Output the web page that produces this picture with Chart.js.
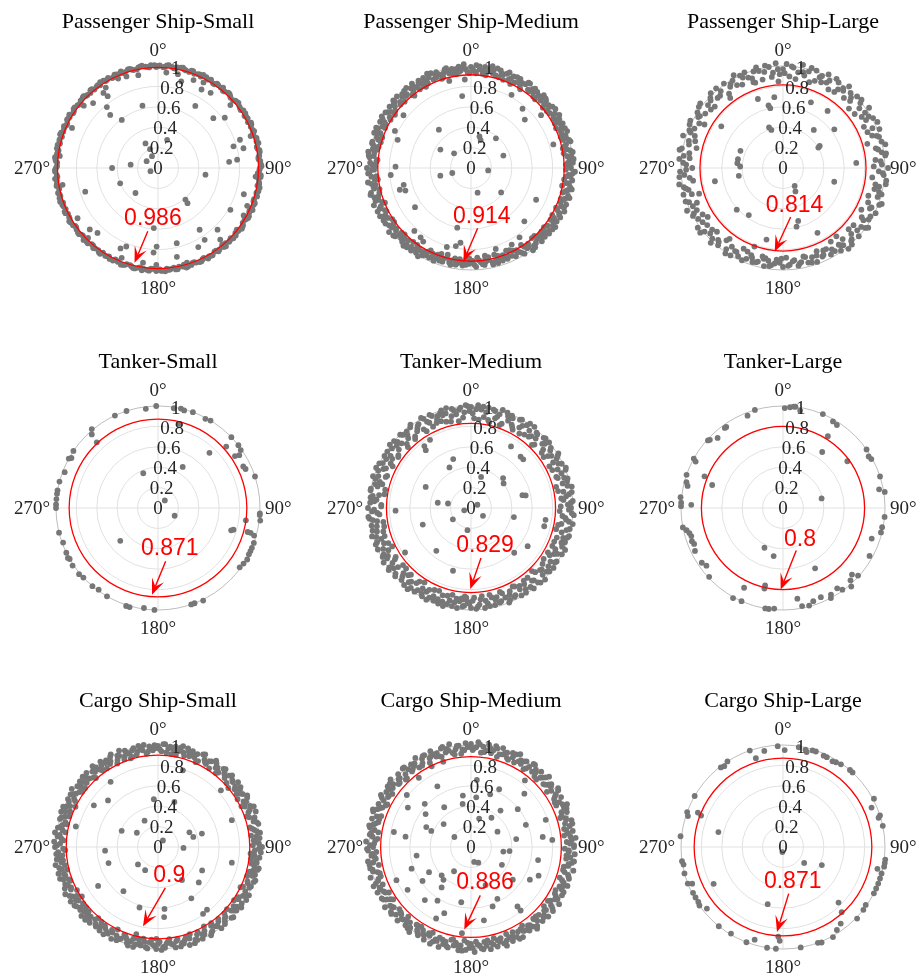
<!DOCTYPE html>
<html>
<head>
<meta charset="utf-8">
<script src="https://cdn.jsdelivr.net/npm/chart.js@4.4.1/dist/chart.umd.min.js"></script>
<style>
  html, body { margin: 0; padding: 0; background: #fff; }
  body { position: relative; width: 921px; height: 979px; overflow: hidden; }
  canvas { position: absolute; }
</style>
</head>
<body>
<script>
// each series is a flat list of [direction in degrees, ratio] pairs
var psSmallPts = [336,.96, 341,.95, 348,.93, 5,.94, 12,.94, 15,.88, 22,.93, 28,.95, 29,.88, 35,.9, 327,.94, 324,.91, 325,.86, 310,.95, 315,.9, 320,.78, 346,.63, 31,.71, 49,.94, 53,.82, 318,.7, 323,.59, 48,.73, 295,.93, 71,.85, 71,.96, 77,.86, 74,.77, 333,.27, 18,.29, 337,.2, 333,.13, 301,.13, 85,.7, 84,.78, 277,.27, 270,.45, 247,.08, 98,.47, 248,.4, 260,.95, 277,.97, 222,.33, 252,.75, 139,.41, 140,.45, 107,.88, 113,.95, 120,.82, 119,.96, 93,.98, 95,.96, 238,.93, 146,.73, 228,.9, 223,.87, 225,.97, 136,.84, 147,.84, 139,.93, 140,.98, 128,.98, 184,.59, 202,.83, 205,.87, 181,.77, 183,.83, 166,.76, 153,.87, 168,.89, 202,.95, 189,.94, 181,.95, 165,.98, 163,.97]
var psSmallRim = [0,1, 3,.99, 5,1.01, 8,1, 10,.99, 13,1.01, 15,1, 18,.99, 20,1.01, 23,1, 25,.99, 28,1.01, 30,1, 33,.99, 35,1.01, 38,1, 40,.99, 43,1.01, 45,1, 48,.99, 50,1.01, 53,1, 55,.99, 58,1.01, 60,1, 63,.99, 65,1.01, 68,1, 70,.99, 73,1.01, 75,1, 78,.99, 80,1.01, 83,1, 85,.99, 88,1.01, 90,1, 93,.99, 95,1.01, 98,1, 100,.99, 103,1.01, 105,1, 108,.99, 110,1.01, 113,1, 115,.99, 118,1.01, 120,1, 123,.99, 125,1.01, 128,1, 130,.99, 133,1.01, 135,1, 138,.99, 140,1.01, 143,1, 145,.99, 148,1.01, 150,1, 153,.99, 155,1.01, 158,1, 160,.99, 163,1.01, 165,1, 168,.99, 170,1.01, 173,1, 175,.99, 178,1.01, 180,1, 183,.99, 185,1.01, 188,1, 190,.99, 193,1.01, 195,1, 198,.99, 200,1.01, 203,1, 205,.99, 208,1.01, 210,1, 213,.99, 215,1.01, 218,1, 220,.99, 223,1.01, 225,1, 228,.99, 230,1.01, 233,1, 235,.99, 238,1.01, 240,1, 243,.99, 245,1.01, 248,1, 250,.99, 253,1.01, 255,1, 258,.99, 260,1.01, 263,1, 265,.99, 268,1.01, 270,1, 273,.99, 275,1.01, 278,1, 280,.99, 283,1.01, 285,1, 288,.99, 290,1.01, 293,1, 295,.99, 298,1.01, 300,1, 303,.99, 305,1.01, 308,1, 310,.99, 313,1.01, 315,1, 318,.99, 320,1.01, 323,1, 325,.99, 328,1.01, 330,1, 333,.99, 335,1.01, 338,1, 340,.99, 343,1.01, 345,1, 348,.99, 350,1.01, 353,1, 355,.99, 358,1.01]
var psSmallRim2 = [1,1.005, 4,.995, 6,1.015, 9,.99, 11,1.005, 14,1.015, 16,.995, 19,1.01, 21,.99, 24,1.005, 26,1.015, 29,.995, 31,1.01, 34,.99, 36,1.005, 39,1.015, 41,.995, 44,1.01, 46,.99, 49,1.005, 51,1.015, 54,.995, 56,1.01, 59,.99, 61,1.005, 64,1.015, 66,.995, 69,1.01, 71,.99, 74,1.005, 76,1.015, 79,.995, 81,1.01, 84,.99, 86,1.005, 89,1.015, 91,.995, 94,1.01, 96,.99, 99,1.005, 101,1.015, 104,.995, 106,1.01, 109,.99, 111,1.005, 114,1.015, 116,.995, 119,1.01, 121,.99, 124,1.005, 126,1.015, 129,.995, 131,1.01, 134,.99, 136,1.005, 139,1.015, 141,.995, 144,1.01, 146,.99, 149,1.005, 151,1.015, 154,.995, 156,1.01, 159,.99, 161,1.005, 164,1.015, 166,.995, 169,1.01, 171,.99, 174,1.005, 176,1.015, 179,.995, 181,1.01, 184,.99, 186,1.005, 189,1.015, 191,.995, 194,1.01, 196,.99, 199,1.005, 201,1.015, 204,.995, 206,1.01, 209,.99, 211,1.005, 214,1.015, 216,.995, 219,1.01, 221,.99, 224,1.005, 226,1.015, 229,.995, 231,1.01, 234,.99, 236,1.005, 239,1.015, 241,.995, 244,1.01, 246,.99, 249,1.005, 251,1.015, 254,.995, 256,1.01, 259,.99, 261,1.005, 264,1.015, 266,.995, 269,1.01, 271,.99, 274,1.005, 276,1.015, 279,.995, 281,1.01, 284,.99, 286,1.005, 289,1.015, 291,.995, 294,1.01, 296,.99, 299,1.005, 301,1.015, 304,.995, 306,1.01, 309,.99, 311,1.005, 314,1.015, 316,.995, 319,1.01, 321,.99, 324,1.005, 326,1.015, 329,.995, 331,1.01, 334,.99, 336,1.005, 339,1.015, 341,.995, 344,1.01, 346,.99, 349,1.005, 351,1.015, 354,.995, 356,1.01, 359,.99]

var psMediumPts = [353,.71, 322,.9, 346,.88, 29,.82, 41,.77, 48,.71, 53,.86, 308,.84, 320,.49, 296,.83, 15,.32, 19,.29, 40,.38, 74,.84, 301,.35, 311,.22, 69,.34, 271,.74, 265,.79, 256,.31, 255,.19, 98,.17, 256,.68, 253,.73, 251,.68, 165,.25, 129,.38, 116,.71, 235,.67, 135,.74, 193,.6, 222,.83, 216,.84, 213,.86, 197,.81, 191,.78, 188,.74, 163,.83, 171,.87, 152,.85, 145,.83, 133,.94, 291,.77, 331,.91, 356,.87]
var psMediumRim = [0,.99, 2,.95, 3,1.01, 5,.97, 7,.93, 8,1, 10,.96, 12,1.02, 13,.98, 15,.94, 17,1, 18,.97, 20,.92, 22,1.01, 24,.96, 25,.99, 27,.94, 29,1, 31,.97, 32,.91, 34,1.01, 36,.95, 38,.98, 39,1, 41,.93, 43,.97, 45,1.01, 46,.95, 48,.99, 50,.92, 52,.97, 53,1, 55,.94, 57,.98, 59,1.01, 60,.96, 62,.93, 64,1, 66,.97, 67,.95, 69,1.01, 71,.98, 73,.94, 74,1, 76,.96, 78,.92, 80,.99, 81,1.01, 83,.95, 85,.97, 87,1, 88,.93, 90,.98, 92,1.02, 94,.96, 95,.94, 97,1, 99,.97, 101,.91, 102,1.01, 104,.95, 106,.99, 108,.97, 109,.93, 111,1, 113,.96, 115,1.01, 116,.94, 118,.98, 120,.92, 122,.99, 123,.96, 125,1.01, 127,.94, 129,.98, 130,1, 132,.93, 134,.97, 136,1, 137,.95, 139,.91, 141,.98, 143,1.01, 144,.96, 146,.93, 148,.99, 150,.95, 151,.92, 153,.97, 155,.89, 157,.94, 158,.96, 160,.91, 162,.93, 164,.97, 165,.88, 167,.95, 169,.92, 171,.9, 172,.96, 174,.93, 176,.88, 178,.95, 179,.91, 181,.94, 183,.89, 185,.96, 186,.92, 188,.94, 190,.9, 192,.97, 193,.93, 195,.91, 197,.96, 199,.89, 200,.94, 202,.98, 204,.92, 206,.9, 207,.96, 209,.94, 211,1.01, 213,.94, 214,.96, 216,1, 218,.92, 220,.98, 221,1.01, 223,.95, 225,.97, 227,.93, 228,1, 230,.96, 232,1.02, 234,.94, 235,.98, 237,.92, 239,1, 241,.96, 242,1.01, 244,.94, 246,.98, 248,.91, 249,1.02, 251,.96, 253,.99, 255,.93, 256,1.01, 258,.97, 260,.95, 262,1.02, 263,.92, 265,.98, 267,1, 269,.95, 270,1.02, 272,.97, 274,.93, 276,1, 277,.96, 279,1.02, 281,.94, 283,.98, 284,1, 286,.92, 288,.97, 290,1.01, 291,.95, 293,.99, 295,.93, 297,1, 298,.96, 300,1.01, 302,.94, 304,.98, 305,.91, 307,1, 309,.96, 311,.99, 312,.93, 314,1.01, 316,.97, 318,.95, 319,1, 321,.92, 323,.98, 325,1.01, 326,.95, 328,.97, 330,.93, 332,1, 333,.96, 335,1.02, 337,.94, 339,.98, 340,1, 342,.92, 344,.97, 346,1.01, 347,.95, 349,.99, 351,.93, 353,1, 354,.96, 356,1.02, 358,.94]
var psMediumRim2 = [1,.97, 3,.93, 5,1, 7,.96, 9,.92, 11,.99, 13,.95, 15,1.01, 17,.93, 19,.97, 21,.99, 23,.94, 25,.91, 27,1, 29,.96, 31,.93, 33,.98, 35,1.01, 37,.94, 39,.96, 41,.99, 43,.92, 45,.97, 47,1, 49,.95, 51,.98, 53,.93, 55,1.01, 57,.96, 59,.94, 61,.99, 63,.97, 65,.92, 67,1, 69,.95, 71,.93, 73,.98, 75,1.01, 77,.94, 79,.96, 81,.92, 83,.99, 85,1.01, 87,.95, 89,.97, 91,.93, 93,1, 95,.98, 97,.92, 99,.95, 101,.99, 103,.97, 105,.93, 107,1.01, 109,.96, 111,.94, 113,.99, 115,.92, 117,.97, 119,1, 121,.95, 123,.93, 125,.98, 127,1, 129,.92, 131,.96, 133,.99, 135,.94, 137,.91, 139,.97, 141,1, 143,.93, 145,.96, 147,.9, 149,.97, 151,.94, 153,.91, 155,.95, 157,.88, 159,.93, 161,.96, 163,.9, 165,.94, 167,.97, 169,.89, 171,.93, 173,.95, 175,.91, 177,.97, 179,.92, 181,.89, 183,.95, 185,.93, 187,.9, 189,.96, 191,.92, 193,.95, 195,.88, 197,.93, 199,.96, 201,.91, 203,.95, 205,.97, 207,.92, 209,.98, 211,.95, 213,.99, 215,.92, 217,.97, 219,1, 221,.94, 223,.99, 225,.92, 227,.96, 229,1.01, 231,.94, 233,.97, 235,.92, 237,1, 239,.95, 241,.98, 243,.93, 245,1.01, 247,.96, 249,.93, 251,.99, 253,.95, 255,1.02, 257,.92, 259,.97, 261,.99, 263,.95, 265,.93, 267,1.01, 269,.97, 271,.94, 273,.99, 275,.92, 277,1.01, 279,.96, 281,.98, 283,.93, 285,1, 287,.95, 289,.92, 291,.98, 293,1.01, 295,.96, 297,.94, 299,.99, 301,.92, 303,1, 305,.96, 307,.93, 309,.98, 311,1.01, 313,.95, 315,.92, 317,.99, 319,.96, 321,1.01, 323,.94, 325,.97, 327,.92, 329,1, 331,.96, 333,.93, 335,.98, 337,1.01, 339,.95, 341,.97, 343,.93, 345,1, 347,.97, 349,.94, 351,.98, 353,.95, 355,.99, 357,.97, 359,.93]

var psLargePts = [340,.72, 353,.7, 347,.63, 348,.6, 23,.7, 357,.85, 38,.71, 53,.63, 39,.48, 341,.42, 343,.39, 59,.42, 60,.4, 292,.45, 281,.45, 276,.45, 272,.42, 259,.68, 260,.44, 86,.72, 105,.52, 147,.21, 228,.61, 216,.57, 164,.54, 167,.59, 152,.72, 193,.72, 200,.82, 142,.85, 142,.96, 191,.9, 152,.26, 304,.73, 341,.89]
var psLargeRim = [0,.97, 2,1.02, 4,.9, 6,.99, 9,.95, 11,1.03, 13,.93, 15,.98, 17,.88, 19,1.01, 22,.96, 24,.92, 26,1.02, 28,.97, 30,.89, 33,1, 35,.94, 37,.98, 39,1.03, 41,.91, 44,.96, 46,1.01, 48,.87, 50,.99, 52,.95, 55,1.03, 57,.92, 59,.98, 61,1.01, 63,.89, 66,.96, 68,1.02, 70,.93, 72,.99, 74,.86, 77,1.03, 79,.95, 81,.98, 83,1.01, 85,.91, 88,.97, 90,1.03, 92,.94, 94,.99, 96,.88, 99,1.02, 101,.96, 103,.92, 105,1, 107,.97, 110,1.03, 112,.9, 114,.95, 116,1.01, 118,.87, 121,.98, 123,.94, 125,1.02, 127,.96, 129,.89, 132,1, 134,.93, 136,.97, 138,1.01, 140,.91, 143,.95, 145,.99, 147,.86, 149,.93, 151,.97, 154,.9, 156,.95, 158,.88, 160,.98, 162,.92, 165,.96, 167,.89, 169,.94, 171,.97, 173,.91, 176,.95, 178,.88, 180,.97, 182,.93, 184,.9, 187,.96, 189,.92, 191,.98, 193,.89, 195,.95, 198,.97, 200,.91, 202,.96, 204,.99, 206,.88, 209,.94, 211,1, 213,.92, 215,.97, 217,.87, 220,.99, 222,.95, 224,1.02, 226,.9, 228,.96, 231,.99, 233,.93, 235,1.02, 237,.88, 239,.97, 242,1, 244,.94, 246,1.03, 248,.91, 250,.98, 253,.86, 255,1.01, 257,.95, 259,.99, 261,1.03, 264,.92, 266,.97, 268,1.01, 270,.89, 272,.95, 275,1.02, 277,.98, 279,.93, 281,1.01, 283,.87, 286,.96, 288,1.03, 290,.92, 292,.99, 294,.95, 297,1.02, 299,.88, 301,.97, 303,1, 305,.93, 308,1.03, 310,.96, 312,.9, 314,.99, 316,1.02, 319,.94, 321,.97, 323,.86, 325,1.01, 327,.95, 330,.99, 332,1.03, 334,.91, 336,.97, 338,1.01, 341,.93, 343,.99, 345,1.02, 347,.89, 349,.96, 352,1, 354,.94, 356,1.03, 358,.92]
var psLargeRim2 = [1,.93, 5,1, 8,.88, 12,.96, 16,1.02, 20,.91, 23,.98, 27,.94, 31,1.02, 34,.9, 38,.96, 42,.99, 45,.93, 49,1.02, 53,.88, 56,.97, 60,.94, 64,1.03, 67,.9, 71,.97, 75,1, 78,.93, 82,1.02, 86,.96, 89,.89, 93,.98, 97,1.02, 100,.92, 104,.97, 108,.88, 111,1.01, 115,.94, 119,.98, 122,.91, 126,1, 130,.95, 133,.88, 137,.98, 141,1.02, 144,.93, 148,.96, 152,.9, 155,.94, 159,.92, 163,.97, 166,.9, 170,.95, 174,.92, 177,.96, 181,.89, 185,.94, 188,.97, 192,.91, 196,.96, 199,.93, 203,.89, 207,.97, 210,.94, 214,1.01, 218,.9, 221,.96, 225,.98, 229,.92, 232,1.03, 236,.95, 240,.91, 243,.98, 247,.96, 251,1.01, 254,.93, 258,.97, 262,.89, 265,1.02, 269,.95, 273,.98, 276,.92, 280,1.03, 284,.95, 287,.9, 291,.97, 295,1.01, 298,.93, 302,.96, 306,1.02, 309,.91, 313,.97, 317,.94, 320,1.02, 324,.9, 328,.97, 331,.93, 335,1, 339,.95, 342,.88, 346,.98, 350,1.02, 353,.9, 357,.97]

var tkSmallPts = [359,1, 353,.98, 342,1, 335,1, 320,1.01, 318,.97, 317,.88, 304,1, 300,.98, 299,1, 291,.98, 285,1, 280,1, 278,1, 275,1, 272,1, 270,1, 256,1, 250,.99, 244,1, 241,1.01, 240,1, 236,1.01, 230,1.01, 227,1, 220,1, 216,.99, 210,1, 198,1.01, 196,1.01, 188,.99, 182,1, 161,1, 159,1, 154,1.01, 126,.99, 123,1, 120,1.01, 117,1, 115,1, 113,1, 110,1, 94,1, 97,1.01, 93,1, 105,.91, 105,.94, 106,.98, 107,.75, 106,.77, 43,.74, 48,.9, 46,1, 52,1, 55,.99, 57,.95, 56,.91, 64,.93, 66,.94, 72,1, 9,.99, 13,1, 15,.99, 20,1, 28,.99, 31,1, 14,.85, 31,.47, 337,.37, 42,.1, 115,.18, 229,.49, 98,.87]

var tkMediumPts = [343,.95, 323,.76, 322,.72, 329,.78, 33,.72, 44,.7, 47,.7, 340,.51, 332,.45, 18,.32, 47,.43, 53,.4, 295,.49, 76,.52, 77,.55, 279,.33, 281,.23, 63,.07, 251,.07, 268,.74, 123,.14, 238,.21, 102,.43, 99,.74, 251,.5, 189,.22, 236,.78, 219,.54, 136,.61, 196,.64, 124,.67, 185,.9, 184,.87, 104,.74]
var tkMediumRim = [0,.99, 2,.88, 4,1.01, 6,.97, 8,.9, 10,1, 12,.86, 14,.98, 16,.93, 18,1.01, 20,.88, 22,.97, 24,.99, 26,.91, 28,.87, 30,1, 32,.95, 34,.98, 36,.89, 38,1.01, 40,.92, 42,.97, 44,.86, 46,.99, 48,.94, 50,1, 52,.88, 54,.96, 56,.91, 58,1.01, 60,.97, 62,.87, 64,.99, 66,.93, 68,1, 70,.89, 72,.96, 74,.98, 76,.86, 78,1.01, 80,.92, 82,.97, 84,.89, 86,1, 88,.95, 90,.98, 92,.87, 94,1.01, 96,.93, 98,.97, 100,.9, 102,.99, 104,.86, 106,1, 108,.95, 110,.98, 112,.88, 114,1.01, 116,.92, 118,.96, 120,.87, 122,.99, 124,.94, 126,1, 128,.89, 130,.97, 132,.91, 134,1.01, 136,.86, 138,.98, 140,.93, 142,1, 144,.88, 146,.96, 148,.9, 150,.99, 152,.87, 154,.97, 156,.93, 158,1, 160,.89, 162,.96, 164,.91, 166,.98, 168,.87, 170,.95, 172,.99, 174,.9, 176,.97, 178,.88, 180,.98, 182,.92, 184,.96, 186,.89, 188,.99, 190,.94, 192,.87, 194,.97, 196,1, 198,.9, 200,.95, 202,.98, 204,.88, 206,1, 208,.93, 210,.97, 212,.86, 214,.99, 216,.91, 218,1.01, 220,.95, 222,.88, 224,.98, 226,.92, 228,1, 230,.87, 232,.96, 234,.99, 236,.9, 238,1.01, 240,.94, 242,.97, 244,.86, 246,1, 248,.92, 250,.98, 252,.89, 254,1.01, 256,.95, 258,.87, 260,.99, 262,.93, 264,1, 266,.9, 268,.97, 270,1.01, 272,.88, 274,.95, 276,.99, 278,.91, 280,1, 282,.86, 284,.97, 286,.93, 288,1.01, 290,.89, 292,.98, 294,.94, 296,1, 298,.87, 300,.96, 302,.91, 304,.99, 306,.88, 308,1.01, 310,.95, 312,.97, 314,.86, 316,1, 318,.92, 320,.98, 322,.89, 324,1.01, 326,.94, 328,.97, 330,.87, 332,.99, 334,.93, 336,1, 338,.9, 340,.96, 342,.98, 344,.88, 346,1.01, 348,.92, 350,.97, 352,.86, 354,.99, 356,.94, 358,1]
var tkMediumRim2 = [1,.93, 3,.97, 5,.87, 7,1, 9,.95, 11,.88, 13,.99, 15,.91, 17,.96, 19,.86, 21,1, 23,.93, 25,.97, 27,.89, 29,.99, 31,.92, 33,.87, 35,1.01, 37,.95, 39,.9, 41,.98, 43,.93, 45,.88, 47,1, 49,.96, 51,.91, 53,.98, 55,.87, 57,.94, 59,.99, 61,.92, 63,.96, 65,.88, 67,1.01, 69,.95, 71,.9, 73,.99, 75,.93, 77,.97, 79,.87, 81,1, 83,.94, 85,.91, 87,.98, 89,.88, 91,.96, 93,.99, 95,.9, 97,.94, 99,1.01, 101,.87, 103,.96, 105,.92, 107,.99, 109,.89, 111,.95, 113,.97, 115,.88, 117,1, 119,.93, 121,.9, 123,.98, 125,.87, 127,.95, 129,.99, 131,.92, 133,.96, 135,.89, 137,1, 139,.94, 141,.88, 143,.97, 145,.91, 147,.99, 149,.93, 151,.88, 153,.96, 155,.9, 157,.98, 159,.94, 161,.87, 163,.97, 165,.93, 167,.9, 169,.98, 171,.92, 173,.87, 175,.95, 177,.99, 179,.91, 181,.94, 183,.88, 185,.97, 187,.92, 189,.9, 191,.98, 193,.93, 195,.89, 197,.96, 199,.99, 201,.87, 203,.94, 205,.97, 207,.9, 209,.99, 211,.92, 213,.96, 215,.88, 217,.98, 219,.93, 221,1, 223,.9, 225,.95, 227,.87, 229,.98, 231,.92, 233,1.01, 235,.94, 237,.88, 239,.96, 241,.99, 243,.91, 245,.95, 247,.88, 249,1, 251,.93, 253,.97, 255,.89, 257,.99, 259,.94, 261,.87, 263,.97, 265,1.01, 267,.92, 269,.95, 271,.88, 273,.99, 275,.93, 277,.97, 279,.86, 281,1, 283,.94, 285,.9, 287,.98, 289,.96, 291,.88, 293,1.01, 295,.92, 297,.97, 299,.9, 301,.99, 303,.94, 305,.87, 307,.97, 309,.91, 311,1, 313,.93, 315,.89, 317,.98, 319,.95, 321,.87, 323,.99, 325,.92, 327,.96, 329,.9, 331,1.01, 333,.95, 335,.88, 337,.98, 339,.93, 341,.9, 343,1, 345,.96, 347,.87, 349,.99, 351,.93, 353,.97, 355,.89, 357,1.01, 359,.95]

var tkLargePts = [1,.98, 4,.99, 6,1, 7,1, 10,.97, 344,1, 339,.97, 325,.97, 324,.97, 317,.94, 312,.99, 313,.98, 299,1, 298,.97, 292,.83, 288,.73, 289,1, 285,.98, 283,.96, 276,1.01, 273,1, 271,1, 272,.9, 259,1, 257,.97, 255,.95, 253,.94, 250,.95, 248,.94, 244,.96, 236,.96, 233,.94, 227,.99, 209,1.01, 204,1, 206,.87, 193,.78, 193,.81, 190,1, 188,1, 185,.99, 205,.43, 191,.48, 152,.67, 171,.9, 169,.98, 165,.99, 162,.96, 157,.95, 151,.97, 152,1, 146,.95, 144,.99, 139,1.02, 137,.97, 134,.94, 132,.99, 119,.97, 109,.92, 104,.99, 101,.99, 95,1, 79,.96, 81,1.01, 72,1, 59,.98, 61,.99, 55,1, 54,.78, 23,1, 30,.98, 33,.97, 32,.83, 35,.67, 76,.39]

var cgSmallPts = [343,.91, 324,.79, 303,.75, 284,.83, 355,.47, 20,.47, 333,.29, 294,.39, 304,.25, 65,.34, 73,.45, 74,.36, 37,.08, 92,.25, 266,.52, 252,.51, 229,.26, 209,.26, 102,.74, 118,.49, 131,.53, 237,.7, 218,.55, 147,.6, 197,.62, 174,.61, 175,.69, 142,.78, 146,.79, 237,.89, 194,.88, 181,.9, 70,.77, 48,.83, 18,.79, 313,.67, 144,.4]
var cgSmallRim = [0,.99, 2,.94, 4,1.01, 6,.97, 8,.92, 10,1, 12,.96, 14,1.02, 16,.93, 18,.98, 20,1, 22,.95, 24,.91, 26,1.01, 28,.97, 30,.94, 32,.99, 34,1.02, 36,.96, 38,.92, 40,1, 42,.97, 44,.94, 46,1.01, 48,.98, 50,.9, 52,.96, 54,1, 56,.93, 58,.98, 60,1.01, 62,.95, 64,.91, 66,.99, 68,.97, 70,1.02, 72,.94, 74,.98, 76,1, 78,.92, 80,.96, 82,1.01, 84,.97, 86,.94, 88,.99, 90,1.02, 92,.95, 94,.91, 96,1, 98,.97, 100,.93, 102,1.01, 104,.96, 106,.99, 108,.92, 110,1, 112,.95, 114,.98, 116,.9, 118,1.01, 120,.96, 122,.93, 124,.99, 126,1.01, 128,.94, 130,.97, 132,.91, 134,1, 136,.95, 138,.98, 140,.92, 142,1.01, 144,.96, 146,.93, 148,.99, 150,.9, 152,.97, 154,1, 156,.94, 158,.98, 160,.91, 162,1.01, 164,.95, 166,.97, 168,.92, 170,1, 172,.96, 174,.93, 176,.99, 178,1.01, 180,.95, 182,.97, 184,.91, 186,1, 188,.94, 190,.98, 192,.92, 194,1.01, 196,.96, 198,.99, 200,.93, 202,.97, 204,1, 206,.9, 208,.95, 210,.98, 212,1.01, 214,.93, 216,.96, 218,.99, 220,.91, 222,1, 224,.95, 226,.97, 228,1.01, 230,.92, 232,.96, 234,.99, 236,.94, 238,1.01, 240,.97, 242,.9, 244,.95, 246,1, 248,.98, 250,.93, 252,1.01, 254,.96, 256,.92, 258,.99, 260,1.02, 262,.94, 264,.97, 266,1, 268,.91, 270,1.01, 272,.96, 274,.93, 276,.99, 278,1.02, 280,.95, 282,.97, 284,.92, 286,1, 288,.96, 290,1.01, 292,.93, 294,.98, 296,.9, 298,1, 300,.95, 302,.98, 304,1.02, 306,.92, 308,.96, 310,1, 312,.94, 314,.98, 316,1.01, 318,.91, 320,.96, 322,.99, 324,.93, 326,1.01, 328,.97, 330,.94, 332,1, 334,.91, 336,.98, 338,1.02, 340,.95, 342,.97, 344,.92, 346,1, 348,.96, 350,.99, 352,1.01, 354,.94, 356,.97, 358,1]
var cgSmallRim2 = [1,.96, 3,1.01, 5,.93, 7,.99, 9,.97, 11,.92, 13,1, 15,.96, 17,1.01, 19,.94, 21,.97, 23,.99, 25,.93, 27,1.02, 29,.95, 31,.98, 33,.92, 35,1, 37,.97, 39,.94, 41,1.01, 43,.96, 45,.99, 47,.92, 49,.97, 51,1.01, 53,.94, 55,.98, 57,.96, 59,.91, 61,1, 63,.97, 65,.94, 67,1.02, 69,.95, 71,.92, 73,.99, 75,.97, 77,1.01, 79,.94, 81,.98, 83,.92, 85,1, 87,.96, 89,.93, 91,.99, 93,1.01, 95,.95, 97,.92, 99,.98, 101,.96, 103,1, 105,.93, 107,.97, 109,1.01, 111,.94, 113,.99, 115,.92, 117,.96, 119,.98, 121,1.01, 123,.94, 125,.91, 127,.97, 129,.99, 131,.95, 133,1.01, 135,.92, 137,.96, 139,1, 141,.94, 143,.97, 145,.91, 147,.98, 149,1.01, 151,.94, 153,.96, 155,.92, 157,.99, 159,1.01, 161,.95, 163,.93, 165,.98, 167,1, 169,.94, 171,.97, 173,.91, 175,.95, 177,.98, 179,.93, 181,1, 183,.96, 185,.94, 187,.99, 189,.91, 191,.96, 193,.98, 195,.93, 197,1.01, 199,.95, 201,.92, 203,.98, 205,.96, 207,1.01, 209,.93, 211,.97, 213,.95, 215,1, 217,.92, 219,.97, 221,.94, 223,.99, 225,1.01, 227,.93, 229,.96, 231,.98, 233,.92, 235,1, 237,.96, 239,.93, 241,.99, 243,1.02, 245,.94, 247,.96, 249,.92, 251,.98, 253,.95, 255,1.01, 257,.97, 259,.93, 261,.96, 263,1, 265,.94, 267,.98, 269,.93, 271,.99, 273,1.02, 275,.95, 277,.97, 279,.92, 281,1, 283,.96, 285,.94, 287,.99, 289,.92, 291,.97, 293,1.01, 295,.95, 297,.98, 299,.93, 301,1, 303,.96, 305,.94, 307,.99, 309,.92, 311,.97, 313,1.01, 315,.95, 317,.93, 319,.98, 321,1.02, 323,.95, 325,.97, 327,.92, 329,.99, 331,.96, 333,1.02, 335,.94, 337,.97, 339,.92, 341,1, 343,.96, 345,.98, 347,.93, 349,1.01, 351,.96, 353,.92, 355,.99, 357,.95, 359,.97]

var cgMediumPts = [334,.88, 342,.88, 323,.85, 331,.68, 5,.66, 26,.63, 39,.84, 45,.74, 309,.81, 302,.73, 313,.62, 326,.47, 306,.55, 349,.43, 6,.49, 51,.59, 39,.46, 16,.29, 294,.48, 281,.77, 279,.65, 301,.19, 68,.58, 82,.71, 85,.8, 96,.38, 261,.54, 239,.48, 220,.42, 215,.29, 168,.15, 155,.17, 246,.8, 235,.58, 101,.67, 113,.72, 119,.66, 153,.57, 142,.74, 142,.79, 236,.75, 221,.69, 212,.62, 206,.78, 202,.7, 170,.73, 186,.85, 139,.94, 212,.92, 70,.78, 159,.4, 351,.51, 20,.55, 60,.3, 98,.32, 128,.52, 216,.49, 226,.4, 250,.62, 292,.42, 160,.62, 190,.55, 120,.35, 80,.45, 35,.35, 310,.35]
var cgMediumRim = [0,1.01, 1,.95, 3,.98, 4,1.03, 6,.93, 7,.99, 9,.96, 10,1.02, 12,.94, 13,.97, 15,1, 16,.92, 18,1.02, 19,.96, 21,.99, 22,.94, 24,1.01, 25,.97, 27,.93, 28,1.03, 30,.98, 31,.95, 33,1, 34,.92, 36,.97, 37,1.02, 39,.95, 40,.99, 42,.93, 43,1.01, 45,.96, 46,.98, 48,1.03, 49,.94, 51,.97, 52,1, 54,.92, 55,.96, 57,1.02, 58,.98, 60,.94, 61,1.01, 63,.97, 64,.93, 66,1.03, 67,.99, 69,.95, 70,1, 72,.92, 73,.97, 75,1.02, 76,.95, 78,.99, 79,.93, 81,1.01, 82,.96, 84,.98, 85,1.03, 87,.94, 88,.97, 90,1.01, 91,.92, 93,.96, 94,1.02, 96,.98, 97,.94, 99,1, 100,.97, 102,.93, 103,1.03, 105,.95, 106,.99, 108,1.01, 109,.92, 111,.97, 112,1.02, 114,.95, 115,.98, 117,.93, 118,1.01, 120,.96, 121,.99, 123,1.03, 124,.94, 126,.97, 127,1, 129,.92, 130,.96, 132,1.02, 133,.98, 135,.94, 136,1.01, 138,.97, 139,.93, 141,1.03, 142,.99, 144,.95, 145,1, 147,.92, 148,.97, 150,1.02, 151,.95, 153,.99, 154,.93, 156,1.01, 157,.96, 159,.98, 160,1.03, 162,.94, 163,.97, 165,1.01, 166,.92, 168,.96, 169,1.02, 171,.98, 172,.94, 174,1, 175,.97, 177,.93, 178,1.03, 180,.95, 181,.99, 183,1.01, 184,.92, 186,.97, 187,1.02, 189,.95, 190,.98, 192,.93, 193,1.01, 195,.96, 196,.99, 198,1.03, 199,.94, 201,.97, 202,1, 204,.92, 205,.96, 207,1.02, 208,.98, 210,.94, 211,1.01, 213,.97, 214,.93, 216,1.03, 217,.99, 219,.95, 220,1, 222,.92, 223,.97, 225,1.02, 226,.95, 228,.99, 229,.93, 231,1.01, 232,.96, 234,.98, 235,1.03, 237,.94, 238,.97, 240,1.01, 241,.92, 243,.96, 244,1.02, 246,.98, 247,.94, 249,1, 250,.97, 252,.93, 253,1.03, 255,.95, 256,.99, 258,1.01, 259,.92, 261,.97, 262,1.02, 264,.95, 265,.98, 267,.93, 268,1.01, 270,.96, 271,.99, 273,1.03, 274,.94, 276,.97, 277,1, 279,.92, 280,.96, 282,1.02, 283,.98, 285,.94, 286,1.01, 288,.97, 289,.93, 291,1.03, 292,.99, 294,.95, 295,1, 297,.92, 298,.97, 300,1.02, 301,.95, 303,.99, 304,.93, 306,1.01, 307,.96, 309,.98, 310,1.03, 312,.94, 313,.97, 315,1.01, 316,.92, 318,.96, 319,1.02, 321,.98, 322,.94, 324,1, 325,.97, 327,.93, 328,1.03, 330,.95, 331,.99, 333,1.01, 334,.92, 336,.97, 337,1.02, 339,.95, 340,.98, 342,.93, 343,1.01, 345,.96, 346,.99, 348,1.03, 349,.94, 351,.97, 352,1, 354,.92, 355,.96, 357,1.02, 358,.98]
var cgMediumRim2 = [2,.97, 5,1.01, 8,.94, 11,.99, 14,1.02, 17,.95, 20,.98, 23,.93, 26,1.01, 29,.96, 32,.99, 35,.94, 38,1.02, 41,.97, 44,.92, 47,1, 50,.95, 53,.98, 56,1.03, 59,.96, 62,.93, 65,.99, 68,1.01, 71,.94, 74,.97, 77,1.02, 80,.95, 83,.92, 86,.99, 89,1.01, 92,.96, 95,.94, 98,1.02, 101,.97, 104,.93, 107,1, 110,.95, 113,.98, 116,1.01, 119,.94, 122,.97, 125,.92, 128,1.02, 131,.95, 134,.99, 137,.93, 140,1.01, 143,.96, 146,.98, 149,.94, 152,1.02, 155,.97, 158,.92, 161,1, 164,.95, 167,.98, 170,.93, 173,1.01, 176,.96, 179,.99, 182,.94, 185,1.02, 188,.97, 191,.92, 194,1, 197,.95, 200,.98, 203,1.03, 206,.94, 209,.97, 212,.99, 215,.93, 218,1.01, 221,.96, 224,.98, 227,.94, 230,1.02, 233,.97, 236,.92, 239,1, 242,.95, 245,.98, 248,1.03, 251,.96, 254,.93, 257,.99, 260,1.01, 263,.94, 266,.97, 269,1.02, 272,.95, 275,.92, 278,.99, 281,1.01, 284,.96, 287,.94, 290,1.02, 293,.97, 296,.93, 299,1, 302,.95, 305,.98, 308,1.01, 311,.94, 314,.97, 317,.92, 320,1.02, 323,.95, 326,.99, 329,.93, 332,1.01, 335,.96, 338,.98, 341,.94, 344,1.02, 347,.97, 350,.92, 353,1, 356,.95, 359,.98]

var cgLargePts = [357,.99, 1,.95, 349,.96, 341,1, 343,.91, 9,.99, 13,.98, 14,.96, 17,.99, 19,.99, 24,.98, 26,.98, 30,.97, 32,.98, 35,.99, 41,1, 43,1, 327,1, 322,.99, 324,.98, 300,1, 290,1, 288,.98, 292,.9, 291,.86, 283,.65, 276,1.01, 262,1, 260,.99, 255,1, 249,1, 248,.96, 243,.99, 240,.99, 237,.99, 235,1, 231,.96, 242,.77, 219,1, 211,.99, 201,1, 197,.95, 189,1, 184,1, 183,.88, 182,.92, 195,.58, 170,1, 160,1, 158,1.01, 151,1.01, 147,.97, 143,.94, 134,1.01, 128,1, 125,.99, 135,.77, 138,.86, 127,.26, 115,.42, 187,.05, 117,1, 114,1, 111,1, 108,1, 105,1, 101,1.01, 99,1.01, 97,1.01, 103,.95, 78,1, 72,1, 73,.98, 66,.95, 62,1.01]

var titles = ['Passenger Ship-Small', 'Passenger Ship-Medium', 'Passenger Ship-Large',
  'Tanker-Small', 'Tanker-Medium', 'Tanker-Large',
  'Cargo Ship-Small', 'Cargo Ship-Medium', 'Cargo Ship-Large']
var ratios = [0.986, 0.914, 0.814, 0.871, 0.829, 0.8, 0.9, 0.886, 0.871]
var rTicks = [0, 0.2, 0.4, 0.6, 0.8, 1]
var thetaTicks = [0, 90, 180, 270]

var series = [
  psSmallPts.concat(psSmallRim, psSmallRim2), psMediumPts.concat(psMediumRim, psMediumRim2), psLargePts.concat(psLargeRim, psLargeRim2),
  tkSmallPts, tkMediumPts.concat(tkMediumRim, tkMediumRim2), tkLargePts,
  cgSmallPts.concat(cgSmallRim, cgSmallRim2), cgMediumPts.concat(cgMediumRim, cgMediumRim2), cgLargePts
]

// layout: where each polar plot sits, and where its ratio label / arrow go (unit-circle coords)
var colX = [158, 471, 783], rowY = [168, 508, 847]
var W = 312, H = 330
var notes = [
  [-0.05, -0.475, -0.10, -0.62, -0.23, -0.93],
  [0.106, -0.458, 0.065, -0.59, -0.073, -0.916],
  [0.113, -0.35, 0.075, -0.48, -0.081, -0.818],
  [0.115, -0.376, 0.075, -0.523, -0.059, -0.85],
  [0.138, -0.35, 0.098, -0.49, -0.007, -0.794],
  [0.167, -0.294, 0.13, -0.416, -0.023, -0.80],
  [0.11, -0.26, 0.072, -0.40, -0.147, -0.777],
  [0.138, -0.326, 0.091, -0.474, -0.066, -0.81],
  [0.095, -0.32, 0.056, -0.457, -0.059, -0.833]
]

function toXY(flat) {
  var out = []
  for (var i = 0; i < flat.length; i += 2) {
    var a = flat[i] * Math.PI / 180
    out.push({ x: flat[i + 1] * Math.sin(a), y: flat[i + 1] * Math.cos(a) })
  }
  return out
}

var polarDeco = {
  id: 'polarDeco',
  beforeDatasetsDraw: function (chart) {
    var ctx = chart.ctx, xs = chart.scales.x, ys = chart.scales.y
    var cx = xs.getPixelForValue(0), cy = ys.getPixelForValue(0)
    var u = xs.getPixelForValue(1) - cx
    ctx.save()
    ctx.lineWidth = 1
    ctx.strokeStyle = '#e1e1e1'
    thetaTicks.forEach(function (t) {
      var a = t * Math.PI / 180
      ctx.beginPath()
      ctx.moveTo(cx, cy)
      ctx.lineTo(cx + u * Math.sin(a), cy - u * Math.cos(a))
      ctx.stroke()
    })
    rTicks.forEach(function (r) {
      if (r === 0) return
      ctx.strokeStyle = r === 1 ? '#bdbdbd' : '#e1e1e1'
      ctx.beginPath()
      ctx.arc(cx, cy, r * u, 0, Math.PI * 2)
      ctx.stroke()
    })
    ctx.restore()
  },
  afterDatasetsDraw: function (chart, args, o) {
    var ctx = chart.ctx, xs = chart.scales.x, ys = chart.scales.y
    var cx = xs.getPixelForValue(0), cy = ys.getPixelForValue(0)
    var u = xs.getPixelForValue(1) - cx
    ctx.save()
    // mean ratio circle
    ctx.strokeStyle = '#ff0000'
    ctx.lineWidth = 1.3
    ctx.beginPath()
    ctx.arc(cx, cy, o.ratio * u, 0, Math.PI * 2)
    ctx.stroke()

    // r tick labels along the 10 deg direction
    ctx.fillStyle = '#262626'
    ctx.font = '19px "Liberation Serif", "Times New Roman", serif'
    ctx.textAlign = 'center'
    ctx.textBaseline = 'alphabetic'
    var ra = 10 * Math.PI / 180
    rTicks.forEach(function (r) {
      ctx.fillText(String(r), cx + r * u * Math.sin(ra), cy - r * u * Math.cos(ra) + 6.4)
    })

    // theta labels
    thetaTicks.forEach(function (t) {
      var txt = t + '°'
      if (t === 0) { ctx.textAlign = 'center'; ctx.fillText(txt, cx, cy - u - 10) }
      if (t === 180) { ctx.textAlign = 'center'; ctx.fillText(txt, cx, cy + u + 24.4) }
      if (t === 90) { ctx.textAlign = 'left'; ctx.fillText(txt, cx + u + 5, cy + 6.4) }
      if (t === 270) { ctx.textAlign = 'right'; ctx.fillText(txt, cx - u - 6, cy + 6.4) }
    })

    // title
    ctx.fillStyle = '#000'
    ctx.font = '22px "Liberation Serif", "Times New Roman", serif'
    ctx.textAlign = 'center'
    ctx.fillText(o.title, cx, cy - 140.3)

    // ratio label with arrow
    var n = o.note
    ctx.fillStyle = '#ff0000'
    ctx.font = '23px "Liberation Sans", Arial, sans-serif'
    ctx.fillText(String(o.ratio), xs.getPixelForValue(n[0]), ys.getPixelForValue(n[1]) + 8.3)
    var x0 = xs.getPixelForValue(n[2]), y0 = ys.getPixelForValue(n[3])
    var x1 = xs.getPixelForValue(n[4]), y1 = ys.getPixelForValue(n[5])
    var len = Math.hypot(x1 - x0, y1 - y0), dx = (x1 - x0) / len, dy = (y1 - y0) / len
    var L = 16, hw = 6.5
    var bx = x1 - dx * L, by = y1 - dy * L
    var nx = x1 - dx * L * 0.55, ny = y1 - dy * L * 0.55
    ctx.strokeStyle = '#ff0000'
    ctx.lineWidth = 1.4
    ctx.beginPath()
    ctx.moveTo(x0, y0)
    ctx.lineTo(nx, ny)
    ctx.stroke()
    ctx.beginPath()
    ctx.moveTo(x1, y1)
    ctx.lineTo(bx - dy * hw, by + dx * hw)
    ctx.lineTo(nx, ny)
    ctx.lineTo(bx + dy * hw, by - dx * hw)
    ctx.closePath()
    ctx.fill()
    ctx.restore()
  }
}

series.forEach(function (flat, i) {
  var cv = document.createElement('canvas')
  cv.width = W
  cv.height = H
  cv.style.width = W + 'px'
  cv.style.height = H + 'px'
  cv.style.left = (colX[i % 3] - 156) + 'px'
  cv.style.top = (rowY[Math.floor(i / 3)] - 168) + 'px'
  document.body.appendChild(cv)

  new Chart(cv.getContext('2d'), {
    type: 'scatter',
    data: {
      datasets: [{
        data: toXY(flat),
        pointRadius: 2.9,
        pointHoverRadius: 2.9,
        backgroundColor: '#777777',
        borderColor: '#777777',
        borderWidth: 0
      }]
    },
    options: {
      responsive: false,
      animation: false,
      devicePixelRatio: 1,
      events: [],
      layout: { padding: { left: 33.6, right: 33.6, top: 45.6, bottom: 39.6 } },
      scales: {
        x: { type: 'linear', min: -1.2, max: 1.2, display: false },
        y: { type: 'linear', min: -1.2, max: 1.2, display: false }
      },
      plugins: {
        legend: { display: false },
        tooltip: { enabled: false },
        polarDeco: { ratio: ratios[i], title: titles[i], note: notes[i] }
      }
    },
    plugins: [polarDeco]
  })
})
</script>
</body>
</html>
